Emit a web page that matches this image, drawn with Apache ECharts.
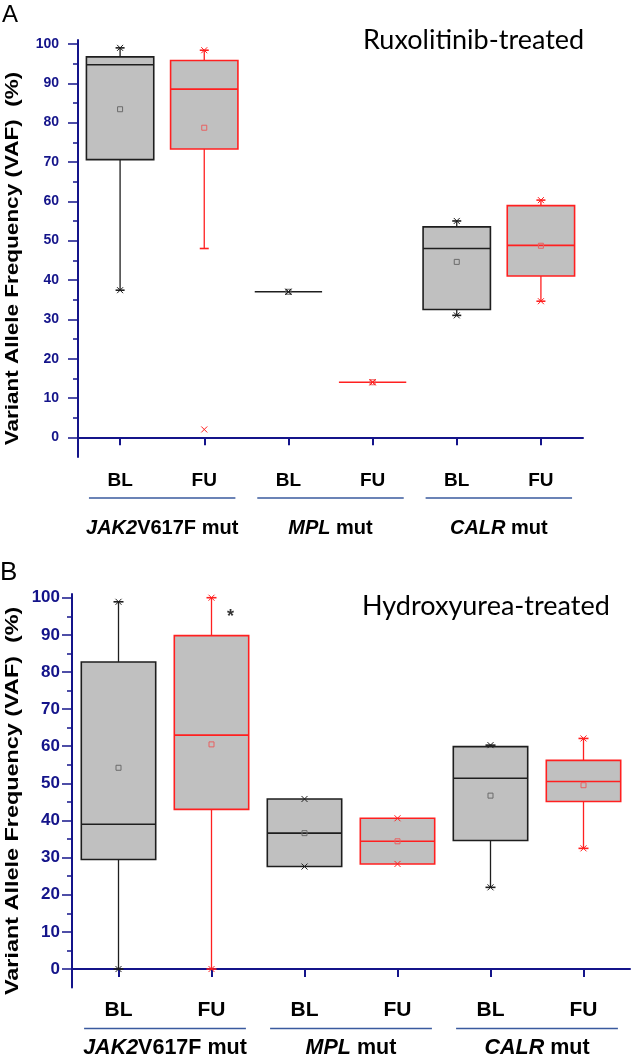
<!DOCTYPE html>
<html><head><meta charset="utf-8">
<script src="https://cdn.jsdelivr.net/npm/echarts@6/dist/echarts.min.js"></script>
<style>html,body{margin:0;padding:0;background:#fff}#c{width:631px;height:1056px}</style>
</head><body><div id="c"></div>
<script>
// ---------- data ----------
const categories = ['BL', 'FU', 'BL', 'FU', 'BL', 'FU'];
const groupItalic = ['JAK2', 'MPL', 'CALR'];
const groupRest = ['V617F mut', ' mut', ' mut'];
const yTickValues = [0, 10, 20, 30, 40, 50, 60, 70, 80, 90, 100];
const yMinorTickValues = [5, 15, 25, 35, 45, 55, 65, 75, 85, 95];

// Panel A: Ruxolitinib-treated
const ruxWhiskerLow  = [37.4, 48.0, 37.0, 14.0, 31.0, 34.6];
const ruxQ1          = [70.6, 73.3, 37.0, 14.0, 32.5, 41.0];
const ruxMedian      = [94.7, 88.5, 37.0, 14.0, 48.0, 48.8];
const ruxQ3          = [96.7, 95.8, 37.0, 14.0, 53.5, 58.9];
const ruxWhiskerHigh = [99.0, 98.4, 37.0, 14.0, 55.0, 60.3];
const ruxMean        = [83.4, 78.7, 37.0, 14.0, 44.6, 48.7];
const ruxMin         = [37.4, 2.0, 37.0, 14.0, 31.0, 34.6];
const ruxMax         = [99.0, 98.4, 37.0, 14.0, 55.0, 60.3];

// Panel B: Hydroxyurea-treated
const huWhiskerLow  = [0.0, 0.0, 27.6, 28.3, 22.0, 32.5];
const huQ1          = [29.5, 43.0, 27.6, 28.3, 34.6, 45.1];
const huMedian      = [39.0, 63.0, 36.6, 34.4, 51.4, 50.5];
const huQ3          = [82.7, 89.8, 45.8, 40.6, 59.9, 56.2];
const huWhiskerHigh = [98.9, 100.0, 45.8, 40.6, 60.3, 62.1];
const huMean        = [54.2, 60.5, 36.6, 34.4, 46.7, 49.5];
const huMin         = [0.0, 0.0, 27.6, 28.3, 22.0, 32.5];
const huMax         = [98.9, 100.0, 45.8, 40.6, 60.3, 62.1];
const huStarCategory = 1;
const huStarValue = 95.8;

// ---------- styles ----------
const NAVY = '#14148a';
const GROUP_BLUE = '#3a5a9e';
const BL_COLOR = '#1e1e1e';
const FU_COLOR = '#ff2020';
const BL_MEAN = '#6a6a6a';
const FU_MEAN = '#e86060';
const BOX_FILL = '#c0c0c0';
const SANS = '"Liberation Sans", Arial, sans-serif';

function rows(low, q1, med, q3, high, mean, mn, mx) {
  return categories.map((c, i) => [i, low[i], q1[i], med[i], q3[i], high[i], mean[i], mn[i], mx[i]]);
}

function boxRender(capHalf) {
  return function (params, api) {
    const i = api.value(0);
    const low = api.value(1), q1 = api.value(2), med = api.value(3), q3 = api.value(4),
          high = api.value(5), mean = api.value(6), vmin = api.value(7), vmax = api.value(8);
    const color = i % 2 === 0 ? BL_COLOR : FU_COLOR;
    const meanColor = i % 2 === 0 ? BL_MEAN : FU_MEAN;
    const band = api.size([1, 0])[0];
    const half = band * 0.4;
    const cx = api.coord([i, med])[0];
    const Y = v => api.coord([i, v])[1];
    const ch = [];
    const ln = (x1, y1, x2, y2, w) => ({ type: 'line', shape: { x1, y1, x2, y2 }, style: { stroke: color, lineWidth: w || 1.3 } });
    if (high > q3) { ch.push(ln(cx, Y(q3), cx, Y(high))); ch.push(ln(cx - capHalf, Y(high), cx + capHalf, Y(high), 1.6)); }
    if (low < q1) { ch.push(ln(cx, Y(q1), cx, Y(low))); ch.push(ln(cx - capHalf, Y(low), cx + capHalf, Y(low), 1.6)); }
    if (q3 > q1) {
      ch.push({ type: 'rect', shape: { x: cx - half, y: Y(q3), width: 2 * half, height: Y(q1) - Y(q3) },
        style: { fill: BOX_FILL, stroke: color, lineWidth: 1.6 } });
    }
    ch.push(ln(cx - half, Y(med), cx + half, Y(med), 1.6));
    ch.push({ type: 'rect', shape: { x: cx - 2.5, y: Y(mean) - 2.5, width: 5, height: 5 },
      style: { fill: 'none', stroke: meanColor, lineWidth: 1 } });
    [vmin, vmax].forEach(v => {
      const yy = Y(v);
      ch.push({ type: 'path', shape: { pathData: `M${cx - 3},${yy - 3}L${cx + 3},${yy + 3}M${cx + 3},${yy - 3}L${cx - 3},${yy + 3}` },
        style: { fill: 'none', stroke: color, lineWidth: 1 } });
    });
    return { type: 'group', children: ch };
  };
}

function xAxisCfg(grid, fontSize, margin) {
  return {
    type: 'category', gridIndex: grid, data: categories, boundaryGap: true,
    axisLine: { show: true, lineStyle: { color: NAVY, width: 2 } },
    axisTick: { show: true, alignWithLabel: true, length: 8, lineStyle: { color: NAVY, width: 2 } },
    axisLabel: { color: '#000', fontWeight: 'bold', fontSize: fontSize, fontFamily: SANS, margin: margin },
    splitLine: { show: false }
  };
}
function yAxisCfg(grid, fontSize, margin) {
  return {
    type: 'value', gridIndex: grid, min: -5, max: 101,
    axisLine: { show: true, lineStyle: { color: NAVY, width: 2 } },
    axisTick: { show: true, customValues: yTickValues, length: 10, lineStyle: { color: NAVY, width: 1.5 } },
    axisLabel: { customValues: yTickValues, color: NAVY, fontWeight: 'bold', fontSize: fontSize, fontFamily: SANS, margin: margin },
    splitLine: { show: false }
  };
}
function yMinorCfg(grid) {
  return {
    type: 'value', gridIndex: grid, min: -5, max: 101, position: 'left',
    axisLine: { show: false },
    axisTick: { show: true, customValues: yMinorTickValues, length: 5, lineStyle: { color: NAVY, width: 1.5 } },
    axisLabel: { show: false }, splitLine: { show: false }
  };
}

const chart = echarts.init(document.getElementById('c'), null, { renderer: 'canvas' });
const option = {
  animation: false,
  backgroundColor: '#fff',
  grid: [
    { left: 78, top: 40, width: 505, height: 417 },
    { left: 72, top: 594, width: 558, height: 393.6 }
  ],
  xAxis: [xAxisCfg(0, 19, 14), xAxisCfg(1, 21, 12)],
  yAxis: [yAxisCfg(0, 14, 19), yMinorCfg(0), yAxisCfg(1, 17, 12), yMinorCfg(1)],
  series: [
    { type: 'custom', xAxisIndex: 0, yAxisIndex: 0, renderItem: boxRender(4.5), clip: false,
      encode: { x: 0, y: [1, 2, 3, 4, 5] },
      data: rows(ruxWhiskerLow, ruxQ1, ruxMedian, ruxQ3, ruxWhiskerHigh, ruxMean, ruxMin, ruxMax) },
    { type: 'custom', xAxisIndex: 1, yAxisIndex: 2, renderItem: boxRender(5), clip: false,
      encode: { x: 0, y: [1, 2, 3, 4, 5] },
      data: rows(huWhiskerLow, huQ1, huMedian, huQ3, huWhiskerHigh, huMean, huMin, huMax) },
    { type: 'scatter', xAxisIndex: 1, yAxisIndex: 2, symbolSize: 0,
      data: [[huStarCategory, huStarValue]],
      label: { show: true, formatter: '*', color: '#000', fontSize: 18, fontWeight: 'bold', fontFamily: SANS, offset: [19, 4] } }
  ]
};
chart.setOption(option);

// ---------- annotations positioned through the axes ----------
function groupGraphics(xIdx, yIdx, lineOff, labelOff, fontSize) {
  const out = [];
  const x0 = chart.convertToPixel({ xAxisIndex: xIdx }, 0);
  const x1 = chart.convertToPixel({ xAxisIndex: xIdx }, 1);
  const band = x1 - x0;
  const yBase = chart.convertToPixel({ yAxisIndex: yIdx }, -5);
  for (let g = 0; g < 3; g++) {
    const a = chart.convertToPixel({ xAxisIndex: xIdx }, 2 * g);
    const b = chart.convertToPixel({ xAxisIndex: xIdx }, 2 * g + 1);
    const c = (a + b) / 2;
    const w = band * 1.74;
    out.push({ type: 'line', shape: { x1: c - w / 2, y1: yBase + lineOff, x2: c + w / 2, y2: yBase + lineOff },
      style: { stroke: GROUP_BLUE, lineWidth: 1.5 } });
    out.push({ type: 'text', x: c, y: yBase + labelOff,
      style: { text: `{i|${groupItalic[g]}}{n|${groupRest[g]}}`, align: 'center', verticalAlign: 'middle',
        textAlign: 'center', textVerticalAlign: 'middle',
        rich: {
          i: { fontStyle: 'italic', fontWeight: 'bold', fontSize: fontSize, fontFamily: SANS, fill: '#000', color: '#000' },
          n: { fontWeight: 'bold', fontSize: fontSize, fontFamily: SANS, fill: '#000', color: '#000' }
        } } });
  }
  return out;
}
const yTitle = 'Variant Allele Frequency (VAF)  (%)';
const topMid = (chart.convertToPixel({ yAxisIndex: 0 }, -5) + chart.convertToPixel({ yAxisIndex: 0 }, 101)) / 2;
const botMid = (chart.convertToPixel({ yAxisIndex: 2 }, -5) + chart.convertToPixel({ yAxisIndex: 2 }, 101)) / 2;
const graphics = [
  { type: 'text', x: 2, y: 3, style: { text: 'A', font: '24px ' + SANS, fill: '#000' } },
  { type: 'text', x: 0, y: 560, style: { text: 'B', font: '26px ' + SANS, fill: '#000' } },
  { type: 'text', x: 363, y: 40, style: { text: 'Ruxolitinib-treated', font: '27px Lato, "Open Sans", sans-serif', fill: '#000',
      verticalAlign: 'middle', textVerticalAlign: 'middle' } },
  { type: 'text', x: 362, y: 606, style: { text: 'Hydroxyurea-treated', font: '27px Lato, "Open Sans", sans-serif', fill: '#000',
      verticalAlign: 'middle', textVerticalAlign: 'middle' } },
  { type: 'text', x: 13, y: topMid + 10, rotation: Math.PI / 2, scaleX: 1.25,
    style: { text: yTitle, font: 'bold 18px ' + SANS, fill: '#000', align: 'center', verticalAlign: 'middle', textAlign: 'center', textVerticalAlign: 'middle' } },
  { type: 'text', x: 13, y: botMid + 10, rotation: Math.PI / 2, scaleX: 1.3,
    style: { text: yTitle, font: 'bold 18px ' + SANS, fill: '#000', align: 'center', verticalAlign: 'middle', textAlign: 'center', textVerticalAlign: 'middle' } }
].concat(groupGraphics(0, 0, 41, 71, 20), groupGraphics(1, 2, 41, 60, 21.5));
chart.setOption({ graphic: graphics });
</script>
</body></html>
